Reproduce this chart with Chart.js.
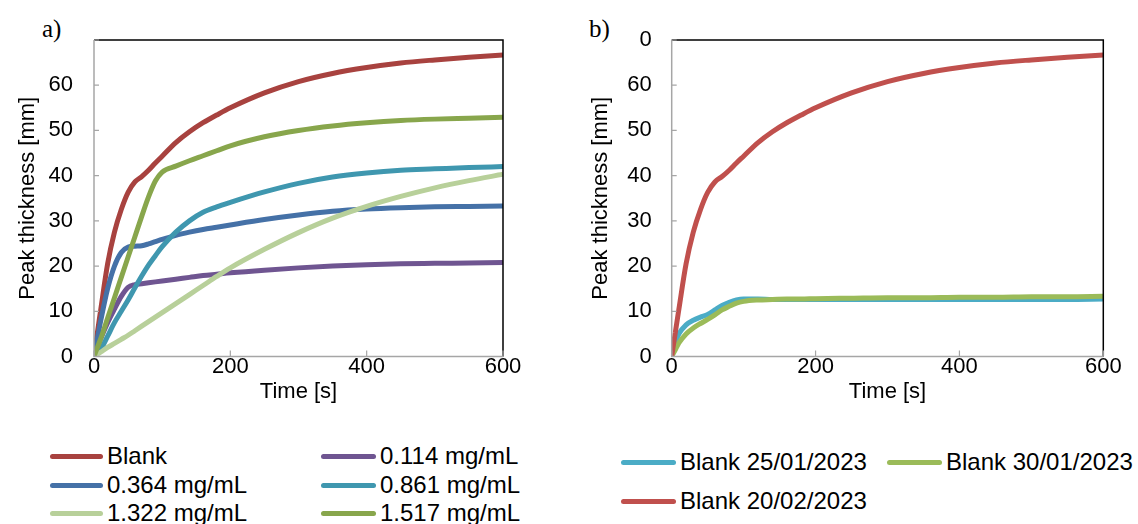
<!DOCTYPE html>
<html>
<head>
<meta charset="utf-8">
<script src="https://cdn.jsdelivr.net/npm/chart.js@4.4.1/dist/chart.umd.min.js"></script>
<style>
  html, body { margin: 0; padding: 0; background: #fff; width: 1138px; height: 524px; overflow: hidden; }
  canvas { position: absolute; top: 0; }
  .panel { position: absolute; font-family: 'Liberation Serif', 'Times New Roman', serif; font-size: 25px; color: #000; line-height: 1; }
  .leg { position: absolute; font-family: 'Liberation Sans', Arial, sans-serif; font-size: 24px; color: #000; white-space: nowrap; line-height: 24px; }
  .leg .sw { position: absolute; top: 9.5px; height: 5px; border-radius: 3px; }
</style>
</head>
<body>
<div class="panel" style="left:42px; top:16px;">a)</div>
<div class="panel" style="left:589px; top:16px;">b)</div>
<canvas id="c1" width="560" height="410" style="left:0px;"></canvas>
<canvas id="c2" width="560" height="410" style="left:578px;"></canvas>
<div id="leg1"></div>
<div id="leg2"></div>
<script>
// ---- data ----
const timeS = [0, 5, 10, 20, 30, 40, 50, 60, 70, 80, 90, 100, 120, 140, 160, 180, 200, 250, 300, 350, 400, 450, 500, 550, 600];

const blank      = [0, 5.3, 10.5, 20.5, 27.5, 32.5, 36.3, 38.6, 39.8, 41.2, 42.8, 44.3, 47.3, 49.7, 51.7, 53.4, 55.0, 58.3, 60.8, 62.6, 63.9, 64.9, 65.6, 66.2, 66.7];
const c0114      = [0, 2.0, 4.0, 7.5, 10.5, 13.3, 15.3, 15.9, 16.1, 16.3, 16.5, 16.7, 17.1, 17.5, 17.9, 18.2, 18.5, 19.1, 19.6, 20.0, 20.3, 20.5, 20.6, 20.7, 20.8];
const c0364      = [0, 4.0, 8.0, 15.0, 20.0, 23.0, 24.2, 24.4, 24.5, 24.9, 25.4, 25.9, 26.8, 27.5, 28.1, 28.6, 29.1, 30.3, 31.3, 32.1, 32.6, 32.9, 33.1, 33.2, 33.3];
const c0861      = [0, 0.8, 1.6, 4.5, 7.5, 10.0, 12.5, 15.2, 17.8, 20.2, 22.3, 24.3, 27.5, 30.0, 31.9, 33.1, 34.1, 36.4, 38.3, 39.7, 40.6, 41.2, 41.5, 41.8, 42.0];
const c1322      = [0, 0.5, 1.0, 2.0, 2.9, 3.8, 4.7, 5.7, 6.7, 7.7, 8.7, 9.7, 11.7, 13.7, 15.7, 17.7, 19.6, 23.7, 27.4, 30.6, 33.2, 35.4, 37.3, 38.9, 40.3];
const c1517      = [0, 2.0, 4.0, 8.5, 13.0, 17.5, 22.0, 26.5, 31.0, 35.3, 38.8, 40.8, 42.1, 43.3, 44.4, 45.5, 46.6, 48.6, 50.0, 51.0, 51.7, 52.2, 52.5, 52.7, 52.9];

const blank2501  = [0, 3.0, 5.0, 7.0, 8.0, 8.7, 9.3, 10.3, 11.3, 12.0, 12.5, 12.7, 12.7, 12.6, 12.6, 12.6, 12.6, 12.6, 12.6, 12.6, 12.6, 12.6, 12.6, 12.6, 12.7];
const blank3001  = [0, 1.5, 3.0, 5.0, 6.3, 7.3, 8.2, 9.2, 10.3, 11.1, 11.8, 12.2, 12.5, 12.6, 12.7, 12.7, 12.8, 12.9, 13.0, 13.0, 13.1, 13.1, 13.2, 13.2, 13.3];
const blank2002  = blank;

const labelsA = ['Blank', '0.114 mg/mL', '0.364 mg/mL', '0.861 mg/mL', '1.322 mg/mL', '1.517 mg/mL'];
const seriesA = [blank, c0114, c0364, c0861, c1322, c1517];
const colorsA = ['#A8423F', '#6F5591', '#4571A7', '#3F97AF', '#B8D09A', '#88A64C'];

const labelsB = ['Blank 25/01/2023', 'Blank 30/01/2023', 'Blank 20/02/2023'];
const seriesB = [blank2501, blank3001, blank2002];
const colorsB = ['#4BACC6', '#9BBB59', '#C0504D'];

const xTicks = [0, 200, 400, 600];
const yTicks = [0, 10, 20, 30, 40, 50, 60, 70];
const xTitle = 'Time [s]';
const yTitle = 'Peak thickness [mm]';

// ---- chart building ----
Chart.defaults.font.family = "'Liberation Sans', Arial, sans-serif";
Chart.defaults.font.size = 22;
Chart.defaults.color = '#000';

const framePlugin = {
  id: 'frame',
  afterDatasetsDraw(chart) {
    const { ctx, chartArea: a, scales } = chart;
    ctx.save();
    ctx.lineCap = 'butt';
    ctx.strokeStyle = '#000';
    ctx.lineWidth = 1.5;
    ctx.beginPath();
    ctx.moveTo(a.left, a.top); ctx.lineTo(a.right, a.top); ctx.lineTo(a.right, a.bottom);
    ctx.stroke();
    ctx.strokeStyle = '#A6A6A6';
    ctx.lineWidth = 1.5;
    ctx.beginPath();
    ctx.moveTo(a.left, a.top); ctx.lineTo(a.left, a.bottom); ctx.lineTo(a.right, a.bottom);
    ctx.stroke();
    ctx.lineWidth = 1.2;
    ctx.beginPath();
    scales.y.ticks.forEach(t => {
      const y = scales.y.getPixelForValue(t.value);
      ctx.moveTo(a.left, y); ctx.lineTo(a.left + 5, y);
    });
    scales.x.ticks.forEach(t => {
      const x = scales.x.getPixelForValue(t.value);
      ctx.moveTo(x, a.bottom); ctx.lineTo(x, a.bottom - 6);
    });
    ctx.stroke();
    ctx.restore();
  }
};

function makeChart(id, labels, series, colors, cfg) {
  const datasets = series.map((vals, i) => ({
    label: labels[i],
    data: timeS.map((t, k) => ({ x: t, y: vals[k] })),
    borderColor: colors[i],
    backgroundColor: colors[i],
    borderWidth: 5,
    pointRadius: 0,
    cubicInterpolationMode: 'monotone',
    fill: false,
    order: series.length - i
  }));
  return new Chart(document.getElementById(id), {
    type: 'line',
    data: { datasets },
    options: {
      responsive: false,
      animation: false,
      devicePixelRatio: 1,
      layout: { padding: { top: 40, right: cfg.padRight, left: 0, bottom: 0 } },
      plugins: { legend: { display: false }, tooltip: { enabled: false } },
      scales: {
        x: {
          type: 'linear', min: 0, max: 600,
          afterBuildTicks: s => { s.ticks = xTicks.map(v => ({ value: v })); },
          afterFit: s => { s.height = cfg.xHeight; },
          ticks: { padding: cfg.xPad, color: '#000', font: { size: 22, lineHeight: 1 } },
          grid: { display: false, drawTicks: false, tickLength: 0 },
          border: { display: false },
          title: { display: true, text: xTitle, color: '#000', font: { size: 22 }, padding: { top: 0, bottom: cfg.xTitlePad } }
        },
        y: {
          type: 'linear', min: 0, max: 70,
          afterBuildTicks: s => { s.ticks = yTicks.map(v => ({ value: v })); },
          afterFit: s => { s.width = cfg.yWidth; },
          ticks: { padding: cfg.yPad, color: '#000', font: { size: 22, lineHeight: 1 }, callback: cfg.yCb },
          grid: { display: false, drawTicks: false, tickLength: 0 },
          border: { display: false },
          title: { display: true, text: yTitle, color: '#000', font: { size: 22 }, padding: { top: cfg.yTitlePad, bottom: 0 } }
        }
      }
    },
    plugins: [framePlugin]
  });
}

makeChart('c1', labelsA, seriesA, colorsA, {
  padRight: 57, xHeight: 53.5, xPad: -1, xTitlePad: 5, yWidth: 94, yPad: 21, yTitlePad: 15,
  yCb: v => (v === 70 ? '' : String(v))
});
makeChart('c2', labelsB, seriesB, colorsB, {
  padRight: 34.7, xHeight: 53.5, xPad: -1, xTitlePad: 5, yWidth: 93.7, yPad: 20, yTitlePad: 10,
  yCb: v => (v === 70 ? '0' : String(v))
});

// ---- HTML legends (real text) ----
function buildLegend(hostId, labels, colors, pos) {
  const host = document.getElementById(hostId);
  labels.forEach((lab, i) => {
    const col = i % 2, row = Math.floor(i / 2);
    const d = document.createElement('div');
    d.className = 'leg';
    d.style.left = pos.colX[col] + 'px';
    d.style.top = (pos.rowY[row] - 12) + 'px';
    d.style.paddingLeft = pos.textOff[col] + 'px';
    const sw = document.createElement('span');
    sw.className = 'sw';
    sw.style.left = '0px';
    sw.style.width = pos.swW[col] + 'px';
    sw.style.background = colors[i];
    d.appendChild(sw);
    d.appendChild(document.createTextNode(lab));
    host.appendChild(d);
  });
}
buildLegend('leg1', labelsA, colorsA, { colX: [50, 321], rowY: [456, 485, 513], textOff: [57, 59], swW: [53, 55] });
buildLegend('leg2', labelsB, colorsB, { colX: [621, 887], rowY: [462, 501], textOff: [59, 59], swW: [55, 55] });
</script>
</body>
</html>
